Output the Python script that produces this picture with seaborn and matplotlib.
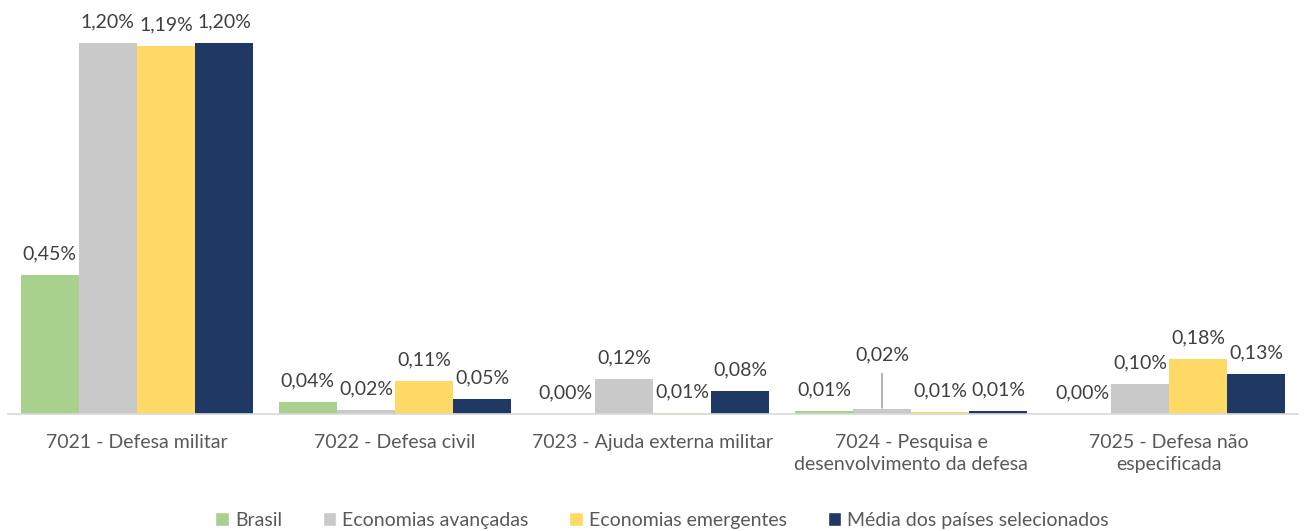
import matplotlib
matplotlib.use("Agg")
import matplotlib.pyplot as plt
import seaborn as sns
import pandas as pd
from matplotlib.patches import Patch

categories = ["7021 - Defesa militar", "7022 - Defesa civil", "7023 - Ajuda externa militar",
              "7024 - Pesquisa e\ndesenvolvimento da defesa", "7025 - Defesa não\nespecificada"]
series = ["Brasil", "Economias avançadas", "Economias emergentes", "Média dos países selecionados"]
brasil = [0.45, 0.04, 0.00, 0.01, 0.00]
avancadas = [1.20, 0.015, 0.115, 0.016, 0.097]
emergentes = [1.19, 0.107, 0.005, 0.006, 0.18]
media = [1.20, 0.048, 0.075, 0.01, 0.129]
labels = {
    "Brasil": ["0,45%", "0,04%", "0,00%", "0,01%", "0,00%"],
    "Economias avançadas": ["1,20%", "0,02%", "0,12%", "0,02%", "0,10%"],
    "Economias emergentes": ["1,19%", "0,11%", "0,01%", "0,01%", "0,18%"],
    "Média dos países selecionados": ["1,20%", "0,05%", "0,08%", "0,01%", "0,13%"],
}
colors = ["#A9D18E", "#C9C9C9", "#FFD966", "#203864"]

rows = []
for s, vals in zip(series, [brasil, avancadas, emergentes, media]):
    for c, v in zip(categories, vals):
        rows.append({"cat": c, "serie": s, "valor": v})
df = pd.DataFrame(rows)

sns.set_theme(style="white")
plt.rcParams["font.family"] = ["Lato", "DejaVu Sans"]

FS = 14
fig = plt.figure(figsize=(13.06, 5.31), dpi=100)
ax = fig.add_axes([0.006, 0.22, 0.988, 0.699])
sns.barplot(data=df, x="cat", y="valor", hue="serie", order=categories, hue_order=series,
            palette=colors, width=0.9, gap=0, ax=ax, legend=False, saturation=1, linewidth=0)
ax.set_ylim(0, 1.2)
ax.set_xlim(-0.5, len(categories) - 0.5)

for cont, s in zip(ax.containers, series):
    labs = list(labels[s])
    if s == "Economias avançadas":
        bar = cont[3]
        x = bar.get_x() + bar.get_width() / 2
        h = bar.get_height()
        ax.annotate(labs[3], xy=(x, h), xytext=(0, 33), textcoords="offset points",
                    ha="center", va="bottom", fontsize=FS, color="#404040",
                    arrowprops=dict(arrowstyle="-", color="#A6A6A6", lw=1.2, shrinkA=5, shrinkB=1))
        labs[3] = ""
    ax.bar_label(cont, labels=labs, padding=9, fontsize=FS, color="#404040")

sns.despine(ax=ax, left=True, top=True, right=True)
ax.spines["bottom"].set_color("#D9D9D9")
ax.spines["bottom"].set_linewidth(1.2)
ax.set_yticks([])
ax.set_xlabel("")
ax.set_ylabel("")
ax.tick_params(axis="x", length=0, pad=14, labelsize=FS, labelcolor="#595959")
for t in ax.get_xticklabels():
    t.set_linespacing(1.4)

handles = [Patch(facecolor=c, label=s) for c, s in zip(colors, series)]
fig.legend(handles=handles, loc="center", bbox_to_anchor=(0.507, 0.02), ncol=4, frameon=False,
           fontsize=FS, handlelength=0.7, handleheight=0.7, handletextpad=0.3, columnspacing=2.1,
           labelcolor="#595959")

fig.savefig("out.png", dpi=100, facecolor="white")
